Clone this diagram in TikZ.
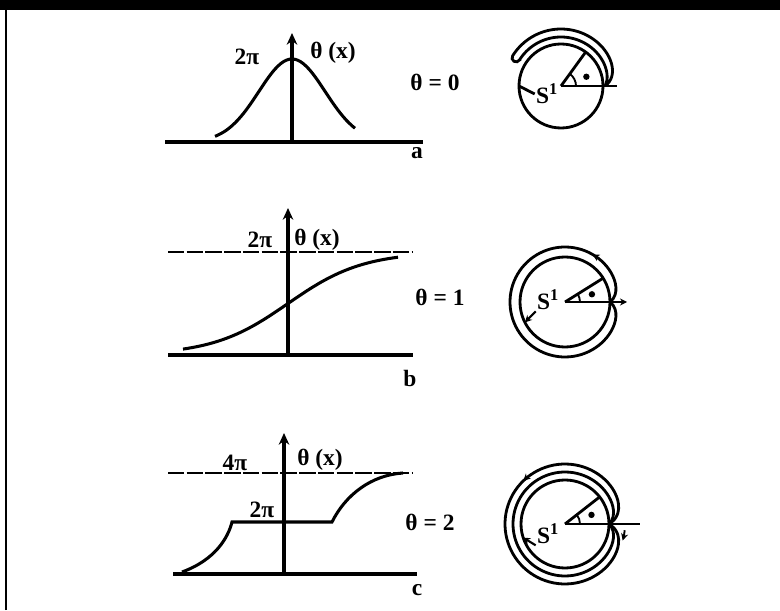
\documentclass[tikz,border=0pt]{standalone}
\usepackage{fontspec}
\setmainfont{Liberation Serif}
\usepackage{tikz}
\usetikzlibrary{calc, arrows.meta}

\tikzset{
  lbl/.style={inner sep=1pt, font=\fontsize{20}{23}\selectfont\bfseries},
  axisline/.style={line width=2.6pt},
  graphline/.style={line width=2.6pt},
  levelline/.style={line width=2.5pt, dash pattern=on 14pt off 2pt},
  ringline/.style={line width=2.4pt},
  axisarrow/.style={-{Stealth[length=10pt,width=9pt]}},
  smallarrow/.style={-{Stealth[length=6pt,width=6pt]}},
}

\begin{document}
\begin{tikzpicture}[x=0.03cm, y=0.03cm]
  \useasboundingbox (0,0) rectangle (780,610);
  % frame of the scan
  \fill (0,600) rectangle (780,610);
  \draw[line width=1.6pt] (6,0) -- (6,610);

  % --- a: theta = 0 ---
  \coordinate (aL) at (165,468);
  \coordinate (aR) at (423,468);
  \coordinate (aO) at (292,468);
  \coordinate (aT) at (292,577);
  \draw[axisline] (aL) -- (aR);
  \draw[axisline, axisarrow] (aO) -- (aT);
  \draw[graphline] plot[domain=-77:63, samples=50, smooth]
        ({292+\x},{468+83*exp(0-(\x/47)*(\x/47))});
  \node[lbl] (aTwoPi) at (247,553) {2π};
  \node[lbl] (aTheta) at (333,557) {θ (x)};
  \node[lbl] (aTag) at (417,457) {a};
  \node[lbl] (aEq) at (435,528) {θ = 0};

  \coordinate (aC) at (561,524);
  \coordinate (aH) at (617,524);
  \draw[ringline] (aC) circle[radius=42];
  \draw[ringline] (aC) -- (aH);
  \draw[ringline] (aC) -- ++(54:42);
  \draw[line width=1.6pt] ($(aC)+(0:15)$) arc[start angle=0, end angle=54, radius=15];
  \fill ($(aC)+(20:27)$) circle[radius=3.2];
  \draw[ringline] plot[domain=0:148, samples=60, smooth]
        ({561+(57-13*exp(0-\x/12))*cos(\x)},{524+(57-13*exp(0-\x/12))*sin(\x)})
        arc[start angle=148, end angle=328, radius=4]
        -- plot[domain=148:0, samples=60, smooth]
        ({561+(49-5*exp(0-\x/12))*cos(\x)},{524+(49-5*exp(0-\x/12))*sin(\x)});
  \node[lbl] (aS) at (547,516) {S\textsuperscript{1}};
  \draw[ringline] (aS.west) -- ($(aC)+(180:42)$);

  % --- b: theta = 1 ---
  \coordinate (bL) at (168,255);
  \coordinate (bR) at (413,255);
  \coordinate (bO) at (288,255);
  \coordinate (bT) at (288,402);
  \coordinate (bDL) at (168,358);
  \coordinate (bDR) at (412,358);
  \draw[axisline] (bL) -- (bR);
  \draw[levelline] (bDL) -- (bDR);
  \draw[axisline, axisarrow] (bO) -- (bT);
  \draw[graphline] plot[domain=-105:110, samples=50, smooth]
        ({288+\x},{255+103*(0.5+0.5*tanh(\x/75))});
  \node[lbl] (bTwoPi) at (260,370) {2π};
  \node[lbl] (bTheta) at (317,370) {θ (x)};
  \node[lbl] (bTag) at (410,232) {b};
  \node[lbl] (bEq) at (440,313) {θ = 1};

  \coordinate (bC) at (565,308);
  \coordinate (bH) at (627,308);
  \draw[ringline] (bC) circle[radius=45];
  \draw[ringline] plot[domain=0:360, samples=90, smooth]
        ({565+(55-10*exp(0-\x/10)-10*exp(0-(360-\x)/10))*cos(\x)},
         {308+(55-10*exp(0-\x/10)-10*exp(0-(360-\x)/10))*sin(\x)});
  \draw[ringline, smallarrow] (bC) -- (bH);
  \draw[ringline] (bC) -- ++(32:45);
  \draw[line width=1.6pt] ($(bC)+(0:15)$) arc[start angle=0, end angle=32, radius=15];
  \fill ($(bC)+(16:28)$) circle[radius=3.2];
  \draw[smallarrow, line width=1.6pt] ($(bC)+(52:55)$) arc[start angle=52, end angle=60, radius=55];
  \node[lbl] (bS) at (548,310) {S\textsuperscript{1}};
  \draw[line width=1.8pt, smallarrow] (bS.south west) -- ($(bC)+(207:45)$);

  % --- c: theta = 2 ---
  \coordinate (cL) at (173,36);
  \coordinate (cR) at (417,36);
  \coordinate (cO) at (284,36);
  \coordinate (cT) at (284,177);
  \coordinate (cDL) at (168,137);
  \coordinate (cDR) at (413,137);
  \coordinate (cP1) at (232,88);
  \coordinate (cP2) at (332,88);
  \draw[axisline] (cL) -- (cR);
  \draw[levelline] (cDL) -- (cDR);
  \draw[axisline, axisarrow] (cO) -- (cT);
  \draw[graphline] (182,38) .. controls (215,50) and (228,72) .. (cP1)
        -- (cP2) .. controls (346,116) and (372,135) .. (403,137);
  \node[lbl] (cFourPi) at (235,147) {4π};
  \node[lbl] (cTheta) at (320,150) {θ (x)};
  \node[lbl] (cTwoPi) at (262,100) {2π};
  \node[lbl] (cTag) at (417,20) {c};
  \node[lbl] (cEq) at (430,88) {θ = 2};

  \coordinate (cC) at (565,86);
  \coordinate (cH) at (640,86);
  \draw[ringline] (cC) circle[radius=44];
  \draw[ringline] plot[domain=0:360, samples=90, smooth]
        ({565+(52-8*exp(0-\x/10)-8*exp(0-(360-\x)/10))*cos(\x)},
         {86+(52-8*exp(0-\x/10)-8*exp(0-(360-\x)/10))*sin(\x)});
  \draw[ringline] plot[domain=0:360, samples=90, smooth]
        ({565+(60-16*exp(0-\x/12)-16*exp(0-(360-\x)/12))*cos(\x)},
         {86+(60-16*exp(0-\x/12)-16*exp(0-(360-\x)/12))*sin(\x)});
  \draw[ringline] (cC) -- (cH);
  \draw[ringline] (cC) -- ++(38:44);
  \draw[line width=1.6pt] ($(cC)+(0:15)$) arc[start angle=0, end angle=38, radius=15];
  \fill ($(cC)+(19:28)$) circle[radius=3.2];
  \draw[smallarrow, line width=1.6pt] ($(cC)+(126:60)$) arc[start angle=126, end angle=134, radius=60];
  \draw[smallarrow, line width=1.6pt] ($(cC)+(-6:60)$) arc[start angle=-6, end angle=-16, radius=60];
  \node[lbl] (cS) at (548,76) {S\textsuperscript{1}};
  \draw[line width=1.8pt, smallarrow] (cS.south west) -- ($(cC)+(198:44)$);
\end{tikzpicture}
\end{document}
